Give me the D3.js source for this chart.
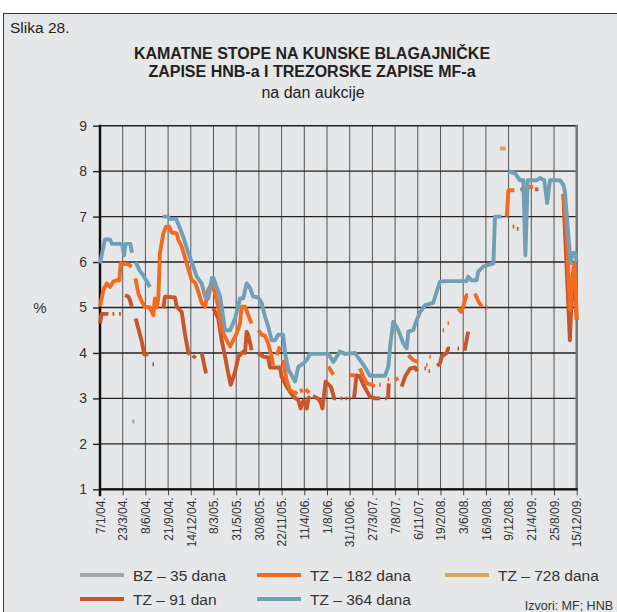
<!DOCTYPE html>
<html>
<head>
<meta charset="utf-8">
<script src="https://cdn.jsdelivr.net/npm/d3@7"></script>
<style>
	body { margin: 0; background: #fff; }
	svg { display: block; font-family: "Liberation Sans", Arial, sans-serif; }
</style>
</head>
<body>
<div id="widget"></div>
<script>
/* Kamatne stope na kunske blagajnicke zapise HNB-a i trezorske zapise MF-a
	- x is the auction position measured in tick steps (0 = 7/1/04., 21 = 15/12/09.)
	- null breaks a line where no auction was held
*/
var dates = ["7/1/04.", "23/3/04.", "8/6/04.", "21/9/04.", "14/12/04.", "8/3/05.", "31/5/05.",
	"30/8/05.", "22/11/05.", "11/4/06.", "1/8/06.", "31/10/06.", "27/3/07.", "7/8/07.", "6/11/07.",
	"19/2/08.", "3/6/08.", "16/9/08.", "9/12/08.", "21/4/09.", "25/8/09.", "15/12/09."];

var yTicks = [1, 2, 3, 4, 5, 6, 7, 8, 9];

var bz35 = [[1.42, 2.49], [1.52, 2.49]];

var tz91 = [
	[0, 4.65], [0.07, 4.86], [0.37, 4.86], null,
	[0.55, 4.86], [0.63, 4.86], null,
	[0.84, 4.86], [0.92, 4.86], null,
	[1.1, 5.27], [1.25, 5.24], [1.32, 5.16], [1.4, 5.02], null,
	[1.57, 4.76], [1.69, 4.54], [1.84, 4.25], [1.95, 3.97], [2.13, 3.97], null,
	[2.31, 3.75], [2.38, 3.75], null,
	[2.79, 4.98], [2.86, 5.24], [3.3, 5.22], [3.38, 5.02], [3.6, 4.9], [3.74, 4.43], [3.89, 4.0], [3.96, 3.97], null,
	[4.11, 3.88], [4.19, 3.95], null,
	[4.48, 4.0], [4.67, 3.55], null,
	[4.99, 4.98], [5.21, 4.76], [5.36, 4.28], [5.51, 3.92], [5.65, 3.55], [5.76, 3.3], [5.95, 3.59], [6.1, 3.92],
	[6.31, 4.03], [6.39, 4.0], [6.46, 4.47], [6.53, 4.4], [6.68, 4.06], null,
	[6.97, 4.0], [7.19, 3.92], [7.41, 3.9], [7.49, 3.68], [7.93, 3.68], [8.0, 3.48], [8.22, 3.26], [8.52, 3.04],
	[8.74, 2.96], [8.84, 2.78], [8.97, 2.96], [9.11, 2.78], [9.18, 3.0], [9.25, 3.05], null,
	[9.38, 3.05], [9.6, 3.0], [9.73, 2.9], [9.8, 2.78], [9.94, 3.37], [10.17, 3.26], [10.32, 3.0], [10.4, 3.0], null,
	[10.6, 3.0], [10.67, 3.0], null,
	[10.82, 3.0], [10.89, 3.0], null,
	[10.98, 3.0], [11.05, 3.0], null,
	[11.19, 3.0], [11.3, 3.51], [11.45, 3.48], [11.6, 3.3], [11.89, 3.04], [12.11, 3.0], [12.33, 3.0], null,
	[12.56, 3.0], [12.63, 3.0], null,
	[12.69, 3.0], [12.72, 3.33], null,
	[13.29, 3.26], [13.44, 3.48], [13.66, 3.66], [13.88, 3.68], [13.98, 3.6], null,
	[14.29, 3.66], [14.36, 3.66], null,
	[14.47, 3.6], [14.54, 3.6], null,
	[14.85, 3.72], [14.98, 3.77], [15.05, 3.92], [15.27, 4.0], [15.34, 4.1], [15.42, 4.1], null,
	[15.75, 4.1], [15.82, 4.1], null,
	[16.06, 4.05], [16.22, 4.47], null,
	[18.18, 6.78], [18.25, 6.78], null,
	[18.36, 6.73], [18.44, 6.73], null,
	[18.52, 7.6], [18.61, 7.6], null,
	[19.16, 7.6], [19.31, 7.6], null,
	[20.41, 7.5], [20.7, 4.28], [20.81, 5.6], [20.93, 5.3], [21.0, 4.72]
];

var tz182 = [
	[0, 5.02], [0.15, 5.39], [0.3, 5.53], [0.44, 5.45], [0.59, 5.57], [0.74, 5.6], [0.85, 5.6], [0.91, 5.97],
	[1.25, 5.95], [1.4, 5.9], null,
	[1.56, 5.64], [1.69, 5.31], [1.84, 5.13], [1.98, 5.02], [2.2, 5.0], [2.35, 4.83], [2.42, 5.2], [2.5, 5.0],
	[2.57, 5.2], [2.64, 6.2], [2.79, 6.63], [2.91, 6.78], [3.05, 6.78], [3.16, 6.65], [3.38, 6.63], [3.45, 6.49],
	[3.6, 6.34], [3.82, 5.97], [4.04, 5.6], [4.19, 5.55], [4.33, 5.35], [4.48, 5.1], [4.63, 5.02], [4.77, 5.39],
	[4.93, 5.53], [5.07, 5.3], [5.21, 5.02], [5.36, 4.5], [5.58, 4.28], [5.73, 4.14], [5.87, 4.28], [6.02, 4.43],
	[6.17, 4.65], [6.24, 5.02], [6.39, 5.02], [6.53, 4.83], [6.68, 4.65], null,
	[6.98, 4.5], [7.12, 4.4], [7.27, 4.38], [7.41, 4.21], [7.56, 3.92], [7.63, 3.73], null,
	[7.78, 3.95], [7.93, 4.14], null,
	[8.07, 3.85], [8.22, 3.4], [8.37, 3.18], [8.59, 3.11], [8.68, 3.15], null,
	[8.8, 3.16], [8.95, 3.18], null,
	[9.05, 3.2], [9.22, 3.12], null,
	[10.06, 3.7], [10.28, 3.52], null,
	[11.01, 3.51], [11.23, 3.51], null,
	[11.45, 3.66], [11.6, 3.48], [11.75, 3.33], [11.97, 3.3], [12.11, 3.26], null,
	[12.3, 3.3], [12.37, 3.3], null,
	[12.67, 3.42], [12.74, 3.42], null,
	[13.0, 3.4], [13.14, 3.45], null,
	[13.58, 3.95], [13.8, 3.84], [14.02, 3.8], null,
	[14.36, 3.73], [14.43, 3.73], null,
	[14.51, 3.92], [14.58, 3.92], null,
	[15.09, 4.5], [15.16, 4.5], null,
	[15.31, 4.65], [15.38, 4.65], null,
	[15.78, 4.98], [15.93, 4.9], [16.08, 5.16], [16.15, 5.27], [16.21, 5.27], null,
	[16.52, 5.31], [16.67, 5.13], [16.82, 5.02], null,
	[17.0, 5.0], [17.07, 5.0], null,
	[17.92, 7.0], [17.99, 7.58], [18.25, 7.58], null,
	[18.8, 7.65], [19.09, 7.65], null,
	[20.41, 7.5], [20.56, 6.7], [20.7, 4.95], [20.78, 5.53], [20.89, 5.97], [20.97, 5.24], [21.0, 4.73]
];

var tz364 = [
	[0, 5.97], [0.22, 6.5], [0.44, 6.5], [0.52, 6.4], [0.97, 6.4], [1.06, 6.15], [1.12, 6.4], [1.34, 6.4], [1.41, 6.2], null,
	[1.57, 6.0], [1.76, 5.8], [1.89, 5.72], [2.2, 5.45], null,
	[2.76, 7.0], [3.0, 7.0], [3.08, 6.95], [3.35, 6.95], [3.52, 6.75], [3.67, 6.55], [3.89, 6.2], [4.11, 5.9],
	[4.26, 5.68], [4.48, 5.53], [4.63, 5.24], [4.77, 5.2], [4.93, 5.65], [5.0, 5.65], [5.14, 5.45], [5.29, 5.24],
	[5.51, 4.5], [5.73, 4.5], [5.95, 4.76], [6.17, 5.2], [6.31, 5.2], [6.46, 5.53], [6.61, 5.43], [6.75, 5.24],
	[6.97, 5.22], [7.12, 5.1], [7.27, 4.8], [7.41, 4.58], [7.56, 4.28], [7.71, 4.28], [7.85, 4.4], [8.07, 4.4],
	[8.15, 4.0], [8.3, 3.63], [8.52, 3.44], [8.59, 3.37], [8.74, 3.7], [8.96, 3.77], [9.11, 3.85], [9.25, 3.98],
	[10.06, 3.98], [10.28, 3.8], [10.57, 4.03], [10.79, 3.98], [11.23, 4.0], [11.37, 3.9], [11.59, 3.75],
	[11.75, 3.62], [11.89, 3.5], [12.56, 3.5], [12.7, 3.7], [12.78, 4.14], [12.92, 4.69], [13.14, 4.5],
	[13.36, 4.21], [13.51, 4.1], [13.58, 4.47], [13.8, 4.5], [13.95, 4.72], [14.1, 4.9], [14.32, 5.05],
	[14.68, 5.1], [14.83, 5.35], [14.98, 5.57], [15.2, 5.58], [16.15, 5.58], [16.22, 5.68], [16.37, 5.6],
	[16.59, 5.6], [16.66, 5.79], [16.88, 5.9], [17.18, 5.95], [17.33, 5.97], [17.4, 7.0], [17.69, 7.0], null,
	[17.99, 8.0], [18.28, 7.95], [18.5, 7.8], [18.65, 7.8], [18.74, 6.15], [18.84, 7.8], [19.24, 7.8],
	[19.38, 7.85], [19.57, 7.8], [19.7, 7.3], [19.82, 7.8], [20.26, 7.8], [20.41, 7.7], [20.48, 7.55],
	[20.73, 5.97], [20.81, 6.2], [20.93, 6.2], [21.0, 6.0]
];

var tz728 = [[17.62, 8.5], [17.87, 8.5]];

// drawing order and legend
var series = [
	{ name: "TZ – 91 dan", colour: "#c9552a", data: tz91 },
	{ name: "TZ – 182 dana", colour: "#f36b21", data: tz182 },
	{ name: "TZ – 364 dana", colour: "#71a0b6", data: tz364 },
	{ name: "TZ – 728 dana", colour: "#d8a45a", data: tz728 },
	{ name: "BZ – 35 dana", colour: "#a1a8ad", data: bz35 }
];

var legendRows = [
	["BZ – 35 dana", "TZ – 182 dana", "TZ – 728 dana"],
	["TZ – 91 dan", "TZ – 364 dana"]
];

var width = 617, height = 612;
var plotLeft = 100, plotRight = 576.7, plotTop = 125.7, plotBottom = 489.3;

var svg = d3.select("#widget")
	.append("svg")
	.attr("width", width)
	.attr("height", height);

var x = d3.scaleLinear().domain([0, dates.length - 1]).range([plotLeft, plotRight]);
var y = d3.scaleLinear().domain([1, 9]).range([plotBottom, plotTop]);

drawFrame();
drawGrid();
drawLines();
drawLegend();

function drawFrame() {
	svg.append("rect")
		.attr("x", 3.5).attr("y", 13.5)
		.attr("width", 700).attr("height", 700)
		.style("fill", "#e6e7e8")
		.style("stroke", "#3a3a3a");

	svg.append("text")
		.attr("x", 10).attr("y", 33)
		.attr("font-size", "15.5px")
		.style("fill", "#222")
		.text("Slika 28.");

	var titles = ["KAMATNE STOPE NA KUNSKE BLAGAJNIČKE", "ZAPISE HNB-a I TREZORSKE ZAPISE MF-a"];
	titles.forEach(function(t, i) {
		svg.append("text")
			.attr("x", 312).attr("y", 59 + i * 18)
			.attr("font-size", "16px")
			.attr("font-weight", "bold")
			.style("text-anchor", "middle")
			.style("fill", "#222")
			.text(t);
	});
	svg.append("text")
		.attr("x", 313).attr("y", 98)
		.attr("font-size", "16px")
		.style("text-anchor", "middle")
		.style("fill", "#222")
		.text("na dan aukcije");

	svg.append("text")
		.attr("x", 40).attr("y", y(5) + 5)
		.attr("font-size", "15px")
		.style("text-anchor", "middle")
		.style("fill", "#333")
		.text("%");

	svg.append("text")
		.attr("x", 613).attr("y", 610)
		.attr("font-size", "12.5px")
		.style("text-anchor", "end")
		.style("fill", "#333")
		.text("Izvori: MF; HNB");
}

function drawGrid() {
	// vertical grid
	svg.selectAll("line.vgrid")
		.data(d3.range(dates.length))
		.enter()
		.append("line")
		.attr("class", "vgrid")
		.attr("x1", function(d) { return x(d); })
		.attr("x2", function(d) { return x(d); })
		.attr("y1", plotTop)
		.attr("y2", plotBottom)
		.style("stroke", "#555")
		.style("stroke-width", 1);

	// horizontal grid
	svg.selectAll("line.hgrid")
		.data(yTicks)
		.enter()
		.append("line")
		.attr("class", "hgrid")
		.attr("x1", plotLeft)
		.attr("x2", plotRight)
		.attr("y1", function(d) { return y(d); })
		.attr("y2", function(d) { return y(d); })
		.style("stroke", "#222")
		.style("stroke-width", 1.4);

	var yAxis = svg.append("g")
		.attr("transform", "translate(" + plotLeft + ",0)")
		.call(d3.axisLeft(y).tickValues(yTicks).tickFormat(d3.format("d")).tickSize(7).tickPadding(6));
	yAxis.select(".domain").remove();
	yAxis.selectAll("line").style("stroke", "#222").style("stroke-width", 1.4);
	yAxis.selectAll("text").attr("font-size", "14px").style("fill", "#333").style("font-family", "Liberation Sans, Arial, sans-serif");

	var xAxis = svg.append("g")
		.attr("transform", "translate(0," + plotBottom + ")")
		.call(d3.axisBottom(x).tickValues(d3.range(dates.length)).tickFormat(function(i) { return dates[i]; }).tickSize(6));
	xAxis.select(".domain").remove();
	xAxis.selectAll("line").style("stroke", "#444");
	xAxis.selectAll("text")
		.attr("transform", "rotate(-90)")
		.attr("x", -8)
		.attr("y", 0)
		.attr("dy", "0.35em")
		.attr("font-size", "12px")
		.style("text-anchor", "end")
		.style("fill", "#333")
		.style("font-family", "Liberation Sans, Arial, sans-serif");

	// axis frame
	svg.append("line")
		.attr("x1", plotRight).attr("x2", plotRight).attr("y1", plotTop - 1).attr("y2", plotBottom + 1)
		.style("stroke", "#777").style("stroke-width", 2.5);
	svg.append("line")
		.attr("x1", plotLeft).attr("x2", plotRight + 1).attr("y1", plotBottom).attr("y2", plotBottom)
		.style("stroke", "#111").style("stroke-width", 2.2);
	svg.append("line")
		.attr("x1", plotLeft).attr("x2", plotLeft).attr("y1", plotTop - 1).attr("y2", plotBottom + 7)
		.style("stroke", "#111").style("stroke-width", 2.5);
}

function drawLines() {
	var line = d3.line()
		.defined(function(d) { return d != null; })
		.x(function(d) { return x(d[0]); })
		.y(function(d) { return y(d[1]); });

	svg.selectAll("path.series")
		.data(series)
		.enter()
		.append("path")
		.attr("class", "series")
		.attr("d", function(d) { return line(d.data); })
		.style("fill", "none")
		.style("stroke", function(d) { return d.colour; })
		.style("stroke-width", 3.9)
		.style("stroke-linejoin", "round");
}

function drawLegend() {
	var colourOf = {};
	series.forEach(function(s) { colourOf[s.name] = s.colour; });
	var colX = [80, 257, 445];
	var rowY = [575, 599];

	legendRows.forEach(function(row, r) {
		row.forEach(function(name, c) {
			svg.append("line")
				.attr("x1", colX[c]).attr("x2", colX[c] + 44)
				.attr("y1", rowY[r]).attr("y2", rowY[r])
				.style("stroke", colourOf[name])
				.style("stroke-width", 4);
			svg.append("text")
				.attr("x", colX[c] + 53).attr("y", rowY[r] + 5.5)
				.attr("font-size", "15.5px")
				.style("fill", "#333")
				.text(name);
		});
	});
}
</script>
</body>
</html>
